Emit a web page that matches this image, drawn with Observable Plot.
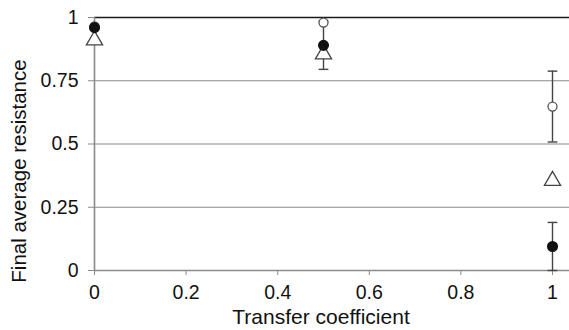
<!DOCTYPE html>
<html>
<head>
<meta charset="utf-8">
<script src="https://cdn.jsdelivr.net/npm/d3@7"></script>
<script src="https://cdn.jsdelivr.net/npm/@observablehq/plot@0.6"></script>
<style>
  html, body { margin: 0; padding: 0; background: #fff; }
  #chart { width: 569px; height: 330px; }
  #chart svg text { font-family: "Liberation Sans", Arial, sans-serif; }
</style>
</head>
<body>
<div id="chart"></div>
<script>
// Data
const transfer = [0, 0.5, 1];
const filledMean = [0.96, 0.89, 0.095];
const filledErr = [0, 0.095, 0.095];
const openMean = [0.965, 0.98, 0.648];
const openErr = [0, 0, 0.14];
const triangleMean = [0.91, 0.855, 0.355];
const xTicks = [0, 0.2, 0.4, 0.6, 0.8, 1];
const yTicks = [0, 0.25, 0.5, 0.75, 1];
const yTickLabels = ["0", "0.25", "0.5", "0.75", "1"];
const xLabel = "Transfer coefficient";
const yLabel = "Final average resistance";

const filled = transfer.map((x, i) => ({x, y: filledMean[i], e: filledErr[i]}));
const open = transfer.map((x, i) => ({x, y: openMean[i], e: openErr[i]}));
const tri = transfer.map((x, i) => ({x, y: triangleMean[i]}));
const bars = [...filled, ...open].filter(d => d.e > 0);

const capSymbol = {
  draw(context, size) {
    const w = Math.sqrt(size);
    context.moveTo(-w / 2, 0);
    context.lineTo(w / 2, 0);
  }
};

const chart = Plot.plot({
  width: 569,
  height: 330,
  marginLeft: 94,
  marginRight: 0,
  marginTop: 17,
  marginBottom: 60,
  style: {fontFamily: "Liberation Sans, Arial, sans-serif", fontSize: "19.5px", color: "#111", background: "#fff"},
  x: {domain: [0, 1], range: [94, 552]},
  y: {domain: [0, 1]},
  marks: [
    Plot.ruleY(yTicks.filter(v => v > 0 && v < 1), {stroke: "#8a8a8a", strokeWidth: 1.2}),
    Plot.ruleY([1], {stroke: "#1a1a1a", strokeWidth: 1.5}),
    Plot.ruleY([0], {stroke: "#8a8a8a", strokeWidth: 1.6}),
    Plot.ruleX([0], {stroke: "#8a8a8a", strokeWidth: 1.6}),
    Plot.axisX({ticks: xTicks, tickFormat: d => String(d), tickSize: 5, tickPadding: 10, stroke: "#8a8a8a", fontSize: 19.5, label: null}),
    Plot.axisY({ticks: yTicks, tickFormat: d => yTickLabels[yTicks.indexOf(d)], tickSize: 6, tickPadding: 10, stroke: "#8a8a8a", fontSize: 19.5, label: null}),
    Plot.text([xLabel], {text: d => d, frameAnchor: "bottom", textAnchor: "middle", lineAnchor: "middle", dx: -11, dy: 47, fontSize: 21, fill: "#111"}),
    Plot.text([yLabel], {text: d => d, frameAnchor: "left", textAnchor: "middle", lineAnchor: "middle", rotate: -90, dx: -75, dy: 27, fontSize: 20.5, fill: "#111"}),
    Plot.ruleX(bars, {x: "x", y1: d => d.y - d.e, y2: d => d.y + d.e, stroke: "#444", strokeWidth: 1.4}),
    Plot.dot(bars, {x: "x", y: d => d.y - d.e, symbol: capSymbol, r: 5.5, stroke: "#444", strokeWidth: 1.4, fill: "none"}),
    Plot.dot(bars, {x: "x", y: d => d.y + d.e, symbol: capSymbol, r: 5.5, stroke: "#444", strokeWidth: 1.4, fill: "none"}),
    Plot.dot(tri, {x: "x", y: "y", symbol: "triangle", r: 6, stroke: "#444", strokeWidth: 1.3, fill: "white"}),
    Plot.dot(open, {x: "x", y: "y", r: 4.5, stroke: "#555", strokeWidth: 1.3, fill: "white"}),
    Plot.dot(filled, {x: "x", y: "y", r: 4.8, fill: "#111", stroke: "#111"})
  ]
});
document.getElementById("chart").appendChild(chart);
</script>
</body>
</html>
